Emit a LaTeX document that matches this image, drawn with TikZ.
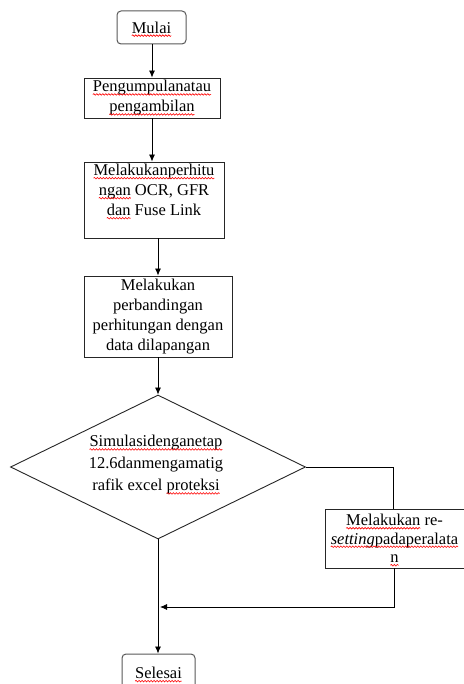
\documentclass[tikz,border=0pt]{standalone}
\usepackage{fontspec}
\setmainfont{Liberation Serif}
\usetikzlibrary{shapes.geometric,arrows.meta,decorations.pathmorphing}
\newcommand\sq[1]{\tikz[baseline=(w.base),x=1pt,y=1pt]{\node[shape=rectangle,inner sep=0pt,outer sep=0pt,minimum width=0pt,minimum height=0pt,anchor=base,draw=none,fill=none,rounded corners=0pt,align=left](w){#1};\draw[overlay,red,line width=0.6pt,rounded corners=0pt,decorate,decoration={snake,amplitude=0.8pt,segment length=3pt}] ([yshift=-2.5pt]w.base west) -- ([yshift=-2.5pt]w.base east);}}
\begin{document}
\begin{tikzpicture}[x=1pt,y=-1pt,
  txt/.style={font=\fontsize{16.5}{20}\selectfont, align=center, inner sep=0pt},
  procbox/.style={txt, draw=black!85, line width=0.9pt},
  termbox/.style={txt, draw=black!65, line width=1pt, rounded corners=4pt},
  conn/.style={line width=0.8pt, black},
  arr/.style={conn, -{Latex[length=7pt,width=6pt]}}]
\useasboundingbox (0,0) rectangle (463,684);
\fill[white] (0,0) rectangle (463,684);
% nodes
\node[termbox, minimum width=69pt, minimum height=33pt] (start) at (151.5,27.5) {\sq{Mulai}};
\node[procbox, minimum width=136pt, minimum height=40pt] (b2) at (152,98) {\sq{Pengumpulanatau}\\\sq{pengambilan}};
\node[procbox, minimum width=140pt, minimum height=76pt] (b3) at (154,200) {\sq{Melakukanperhitu}\\\sq{ngan} OCR, GFR\\\sq{dan} Fuse Link\\\mbox{}};
\node[procbox, minimum width=148pt, minimum height=81pt] (b4) at (158,316.5) {Melakukan\\perbandingan\\perhitungan dengan\\data dilapangan};
\node[draw=black!85, line width=0.9pt, diamond, inner sep=0pt, minimum width=295pt, minimum height=144pt] (d) at (158,467) {};
\node[txt, font=\fontsize{16.5}{22}\selectfont] (dt) at (156,465) {\sq{Simulasidenganetap}\\12.6danmengamatig\\rafik excel \sq{proteksi}};
\node[procbox, minimum width=139pt, minimum height=59pt, font=\fontsize{16.5}{18.5}\selectfont] (b5) at (394.5,538.5) {\sq{Melakukan} re-\\\sq{\itshape setting}\sq{padaperalata}\\\sq{n}};
\node[termbox, minimum width=73pt, minimum height=38pt] (end) at (158.5,673) {\sq{Selesai}};
\coordinate (turn) at (393,467);
\coordinate (join) at (160,607);
% connectors
\draw[arr] (start.south -| 152,0) -- (b2.north -| 152,0);
\draw[arr] (b2.south -| 152,0) -- (b3.north -| 152,0);
\draw[arr] (b3.south -| 158,0) -- (b4.north -| 158,0);
\draw[arr] (b4.south -| 158,0) -- (d.north);
\draw[conn] (d.east) -- (turn) -- (b5.north -| turn);
\draw[arr] (b5.south -| 394,0) |- (join);
\draw[arr] (d.south) -- (end.north -| d.south);
\end{tikzpicture}
\end{document}
